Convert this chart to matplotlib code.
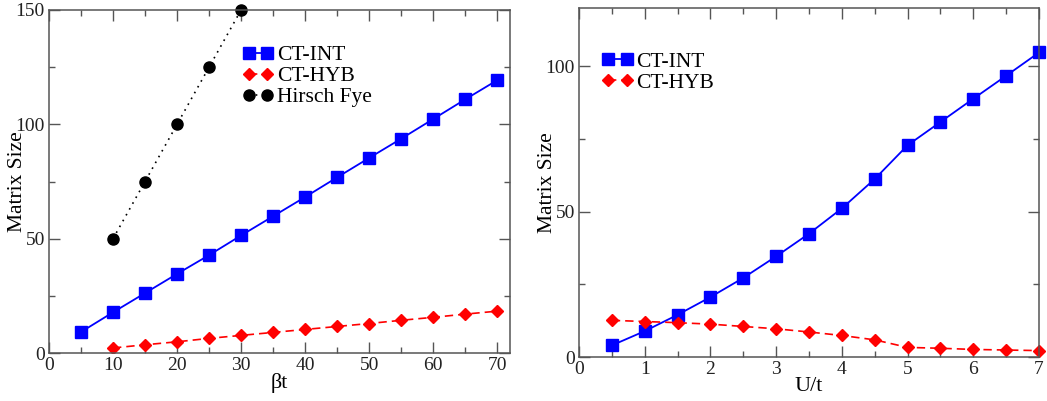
import matplotlib
matplotlib.use("Agg")
import matplotlib.pyplot as plt
from matplotlib.ticker import MultipleLocator

# matrix size vs inverse temperature (left)
beta_int = [5, 10, 15, 20, 25, 30, 35, 40, 45, 50, 55, 60, 65, 70]
size_int_beta = [9.2, 17.8, 26.2, 34.6, 42.8, 51.4, 59.8, 68.2, 76.8, 85.3,
                 93.7, 102.3, 110.9, 119.3]
beta_hyb = [10, 15, 20, 25, 30, 35, 40, 45, 50, 55, 60, 65, 70]
size_hyb_beta = [2.2, 3.6, 4.9, 6.4, 7.7, 9.0, 10.3, 11.6, 12.9, 14.3, 15.6,
                 17.0, 18.3]
beta_hf = [10, 15, 20, 25, 30]
size_hf = [50, 75, 100, 125, 150]

# matrix size vs interaction strength (right)
u_vals = [0.5, 1.0, 1.5, 2.0, 2.5, 3.0, 3.5, 4.0, 4.5, 5.0, 5.5, 6.0, 6.5, 7.0]
size_int_u = [4.0, 8.9, 14.5, 20.6, 27.2, 34.6, 42.4, 51.1, 61.2, 72.8, 80.8,
              88.8, 96.7, 104.7]
size_hyb_u = [12.6, 12.2, 11.8, 11.3, 10.5, 9.7, 8.6, 7.4, 5.9, 3.3, 3.0, 2.6,
              2.4, 2.2]

plt.rcParams["font.family"] = ["Liberation Serif", "DejaVu Serif"]

W, H = 1047, 401
fig = plt.figure(figsize=(W / 100, H / 100), dpi=100)
axl = fig.add_axes([49 / W, 48 / H, 461 / W, 343 / H])
axr = fig.add_axes([579 / W, 44 / H, 460 / W, 349 / H])

ink = "#222222"
blue, red = "#0000ff", "#ff0000"
sq = dict(marker="s", ms=8.5, color=blue, lw=1.3, ls="-")
dm = dict(marker="D", ms=6.5, color=red, lw=1.2, ls=(0, (5, 3)))
leg = dict(loc="upper left", frameon=False, numpoints=2, handlelength=1.45,
           handletextpad=0.15, labelspacing=0.05, fontsize=15.5,
           borderaxespad=0, borderpad=0)

axl.plot(beta_int, size_int_beta, label="CT-INT", **sq)
axl.plot(beta_hyb, size_hyb_beta, label="CT-HYB", **dm)
axl.plot(beta_hf, size_hf, marker="o", ms=8, color="black", lw=1.2,
         ls=(0, (1, 3)), label="Hirsch Fye", clip_on=False)
axl.set_xlim(0, 72)
axl.set_ylim(0, 150)
axl.xaxis.set_major_locator(MultipleLocator(10))
axl.xaxis.set_minor_locator(MultipleLocator(5))
axl.yaxis.set_major_locator(MultipleLocator(50))
axl.yaxis.set_minor_locator(MultipleLocator(25))
axl.set_xlabel("βt", fontsize=16, labelpad=-1)
axl.legend(bbox_to_anchor=(0.42, 0.898), **leg)

axr.plot(u_vals, size_int_u, label="CT-INT", clip_on=False, **sq)
axr.plot(u_vals, size_hyb_u, label="CT-HYB", clip_on=False, **dm)
axr.set_xlim(0, 7)
axr.set_ylim(0, 120)
axr.xaxis.set_major_locator(MultipleLocator(1))
axr.xaxis.set_minor_locator(MultipleLocator(0.5))
axr.yaxis.set_major_locator(MultipleLocator(50))
axr.yaxis.set_minor_locator(MultipleLocator(25))
axr.set_xlabel("U/t", fontsize=16, labelpad=-1)
axr.legend(bbox_to_anchor=(0.05, 0.875), **leg)

for ax in (axl, axr):
    ax.set_ylabel("Matrix Size", fontsize=15.5)
    ax.yaxis.set_label_coords(-0.047, 0.5)
    ax.tick_params(which="both", direction="in", top=True, right=True,
                   labelsize=14, labelcolor=ink, color="#555555", pad=3)
    ax.tick_params(which="major", length=8, width=1.0)
    ax.tick_params(which="minor", length=4, width=1.0)
    for s in ax.spines.values():
        s.set_linewidth(1.1)
        s.set_color("#555555")

fig.savefig("out.png", dpi=100)
